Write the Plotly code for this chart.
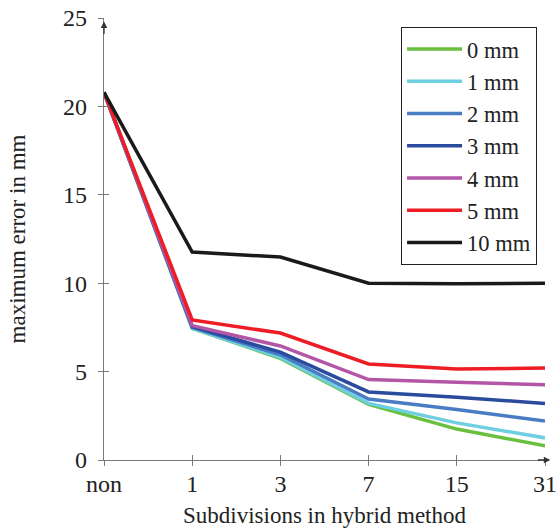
import plotly.graph_objects as go

categories = ["non", "1", "3", "7", "15", "31"]
series_names = ["0 mm", "1 mm", "2 mm", "3 mm", "4 mm", "5 mm", "10 mm"]
err_0mm = [20.8, 7.45, 5.75, 3.15, 1.75, 0.8]
err_1mm = [20.8, 7.45, 5.8, 3.2, 2.1, 1.25]
err_2mm = [20.8, 7.5, 5.95, 3.45, 2.85, 2.2]
err_3mm = [20.8, 7.55, 6.1, 3.85, 3.55, 3.2]
err_4mm = [20.8, 7.6, 6.45, 4.55, 4.4, 4.25]
err_5mm = [20.8, 7.92, 7.18, 5.43, 5.15, 5.2]
err_10mm = [20.8, 11.76, 11.48, 10.0, 9.97, 10.0]
y_ticks = [0, 5, 10, 15, 20, 25]

series = [err_0mm, err_1mm, err_2mm, err_3mm, err_4mm, err_5mm, err_10mm]
colors = ["#6abf3f", "#6dcfe0", "#4a7cc4", "#2a4b9e", "#b456a8", "#ee1c25", "#1a1a1a"]

FONT = "Liberation Serif"
fig = go.Figure()
for name, vals, col in zip(series_names, series, colors):
    fig.add_trace(go.Scatter(x=categories, y=vals, name=name, mode="lines",
                             line=dict(color=col, width=3.5)))

axis_col = "#7a7a7a"
fig.update_layout(
    width=558, height=531,
    margin=dict(l=104, r=13, t=18, b=71),
    plot_bgcolor="white", paper_bgcolor="white",
    font=dict(family=FONT, size=23, color="#222"),
    xaxis=dict(type="category", categoryorder="array", categoryarray=categories,
               range=[0, 5], showgrid=False, zeroline=False, automargin=False,
               showline=True, linecolor=axis_col, linewidth=1.3,
               ticks="outside", ticklen=5, tickcolor=axis_col, tickwidth=1,
               ticklabeloverflow="allow", ticklabelstandoff=-3,
               title=dict(text="Subdivisions in hybrid method", standoff=10,
                          font=dict(size=23)),
               tickfont=dict(size=24)),
    yaxis=dict(range=[0, 25], tickvals=y_ticks, showgrid=False, zeroline=False,
               automargin=False,
               showline=True, linecolor=axis_col, linewidth=1.3,
               ticks="outside", ticklen=5, tickcolor=axis_col, tickwidth=1,
               ticklabelstandoff=6, ticklabeloverflow="allow",
               title=dict(text="maximum error in mm", standoff=30,
                          font=dict(size=23)),
               tickfont=dict(size=24)),
    xaxis2=dict(overlaying="x", matches="x", type="category", range=[0, 5],
                showgrid=False, zeroline=False, showline=False, automargin=False,
                ticks="inside", ticklen=5, tickcolor=axis_col, showticklabels=False,
                anchor="y"),
    yaxis2=dict(overlaying="y", matches="y", range=[0, 25], tickvals=y_ticks,
                showgrid=False, zeroline=False, showline=False, automargin=False,
                ticks="inside", ticklen=5, tickcolor=axis_col, showticklabels=False,
                anchor="x"),
    legend=dict(x=0.982, y=0.98, xanchor="right", yanchor="top",
                bordercolor="#222", borderwidth=1, bgcolor="white",
                font=dict(size=22.5), tracegroupgap=0, itemwidth=55),
    showlegend=True,
)
fig.add_trace(go.Scatter(x=categories, y=[None]*len(categories), xaxis="x2", yaxis="y2",
                         showlegend=False, hoverinfo="skip"))

fig.add_annotation(x=1.012, y=0, xref="paper", yref="paper", ax=-14, ay=0,
                   showarrow=True, arrowhead=2, arrowsize=1, arrowwidth=1.3,
                   arrowcolor="#333", text="")
fig.add_annotation(x=0, y=0.992, xref="paper", yref="paper", ax=0, ay=14,
                   showarrow=True, arrowhead=2, arrowsize=1, arrowwidth=1.3,
                   arrowcolor="#333", text="")

fig.write_html("out.html", config={"displayModeBar": False},
               post_script="document.body.style.margin='0';document.body.style.overflow='hidden';")
